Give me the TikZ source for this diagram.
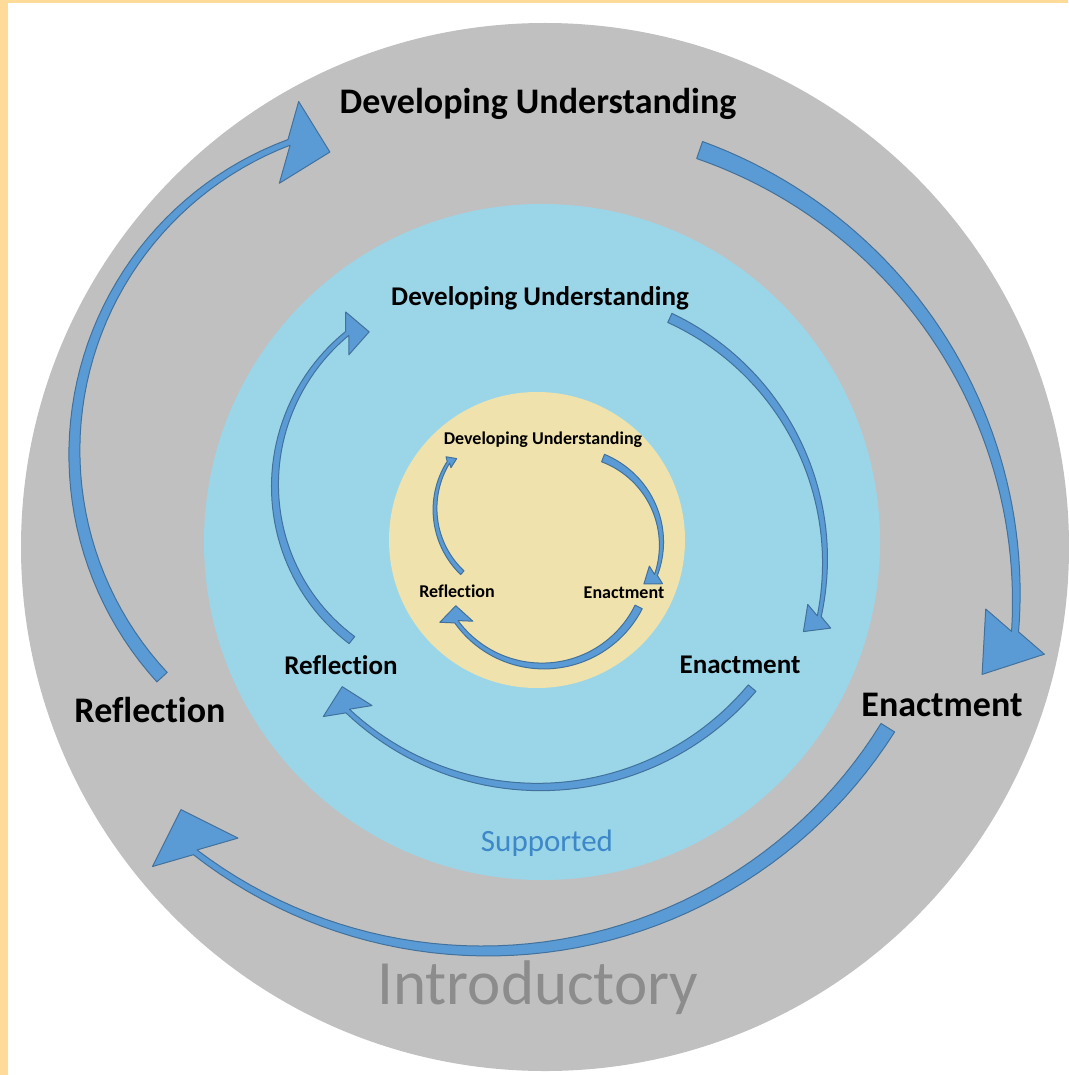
\documentclass[tikz,border=0pt]{standalone}
\usepackage{fontspec}
\setmainfont{Carlito}[Ligatures={NoCommon,NoRequired,NoContextual}]
\usetikzlibrary{calc}

\definecolor{framegold}{RGB}{255,219,153}
\definecolor{ringgray}{RGB}{192,192,192}
\definecolor{ringblue}{RGB}{154,214,232}
\definecolor{ringsand}{RGB}{240,226,172}
\definecolor{arrowfill}{RGB}{91,155,213}
\definecolor{arrowline}{RGB}{65,113,156}
\definecolor{labelblue}{RGB}{62,135,200}
\definecolor{labelgray}{RGB}{140,140,140}

% how far the arrow head is turned in towards the centre
\newcommand{\headturn}{34}
% tapered curved arrow: #1 centre, #2/#3 start/end angle, #4/#5 start/end radius,
% #6/#7 start/end width, #8 head width, #9 head length
\newcommand{\cyclearrow}[9]{%
  \begin{scope}[shift={#1}]
    \filldraw[fill=arrowfill, draw=arrowline, line width=1pt, line join=round]
      plot[domain=#2:#3, samples=50] (\x:{#4+(#5-(#4))*(\x-(#2))/(#3-(#2))+(#6+(#7-(#6))*(\x-(#2))/(#3-(#2)))/2})
      -- ($(#3:#5)+(#3+\headturn:#8/2)$)
      -- ($(#3:#5)+(#3+90+\headturn:#9)$)
      -- ($(#3:#5)+(#3+180+\headturn:#8/2)$)
      -- plot[domain=#3:#2, samples=50] (\x:{#4+(#5-(#4))*(\x-(#2))/(#3-(#2))-(#6+(#7-(#6))*(\x-(#2))/(#3-(#2)))/2})
      -- cycle;
  \end{scope}}

\begin{document}
\begin{tikzpicture}[x=1pt, y=-1pt, every node/.style={inner sep=0pt},
  outerlabel/.style={font=\bfseries\fontsize{36}{40}\selectfont},
  midlabel/.style={font=\bfseries\fontsize{27}{30}\selectfont},
  innerlabel/.style={font=\bfseries\fontsize{18}{22}\selectfont}]
\useasboundingbox (0,0) rectangle (1068,1075);
\fill[framegold] (0,0) rectangle (1068,1075);
\fill[white] (8,3) rectangle (1068,1075);

% the three levels
\fill[ringgray] (545,547) circle[radius=524];
\fill[ringblue] (542,542) circle[radius=338];
\fill[ringsand] (537,540) circle[radius=148];

% introductory cycle
\node[outerlabel] (du1) at (538,104) {Developing Understanding};
\node[outerlabel] (en1) at (942,705) {Enactment};
\node[outerlabel] (re1) at (150,710) {Reflection};
\node[font=\fontsize{63}{70}\selectfont, text=labelgray] (intro) at (538,988) {Introductory};
\cyclearrow{(406,452)}{137.3}{249.3}{332}{331}{14}{6}{84}{42}
\cyclearrow{(544,602)}{-71}{3.6}{478}{472}{18}{7}{74}{54}
\cyclearrow{(485,476)}{32}{127.6}{475}{475}{16}{6}{90}{45}

% supported cycle
\node[midlabel] (du2) at (540,298) {Developing Understanding};
\node[midlabel] (en2) at (740,665) {Enactment};
\node[midlabel] (re2) at (341,665) {Reflection};
\node[font=\fontsize{31}{34}\selectfont, text=labelblue] (supp) at (547,843) {Supported};
\cyclearrow{(470,490)}{128.2}{231.9}{191}{199}{9}{5}{43}{22}
\cyclearrow{(557,561)}{-65.1}{11.9}{268}{268}{10}{4}{33}{22}
\cyclearrow{(539,508)}{40.2}{133.3}{279}{279}{10}{5}{50}{25}

% inner cycle
\node[innerlabel] (du3) at (543,440) {Developing Understanding};
\node[innerlabel] (en3) at (624,593) {Enactment};
\node[innerlabel] (re3) at (457,591) {Reflection};
\cyclearrow{(523,509)}{133.6}{212.1}{88}{88}{5}{3}{12}{9}
\cyclearrow{(570,545)}{-69.2}{19.2}{93}{91}{8}{3}{22}{15}
\cyclearrow{(543,559)}{26.6}{144.1}{107}{107}{8}{4}{33}{16}
\end{tikzpicture}
\end{document}
